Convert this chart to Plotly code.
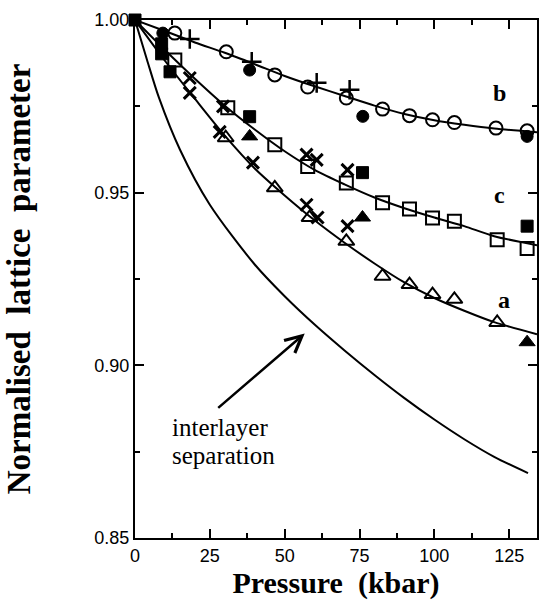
import plotly.graph_objects as go

# ---- data ----
open_circle_x = [13.3, 30.5, 46.7, 57.7, 70.6, 82.7, 91.7, 99.4, 106.7, 120.6, 131.0]
open_circle_y = [0.9962, 0.9908, 0.9841, 0.9806, 0.9774, 0.9742, 0.9723, 0.9711, 0.9703, 0.9687, 0.9679]

filled_circle_x = [9.3, 38.3, 76.1, 131.0]
filled_circle_y = [0.9962, 0.9855, 0.9721, 0.9663]

plus_x = [18.3, 39.0, 60.7, 71.7]
plus_y = [0.9945, 0.9879, 0.9818, 0.9798]

open_square_x = [13.3, 31.0, 46.7, 57.7, 70.6, 82.7, 91.7, 99.4, 106.7, 121.0, 131.0]
open_square_y = [0.9884, 0.9746, 0.9639, 0.9576, 0.9528, 0.9471, 0.9453, 0.9427, 0.9417, 0.9364, 0.9338]

filled_square_x = [0.0, 8.9, 8.9, 11.7, 38.3, 76.0, 131.0]
filled_square_y = [1.0, 0.9931, 0.9902, 0.9850, 0.9720, 0.9558, 0.9403]

cross_x = [18.3, 29.4, 57.3, 60.7, 71.0, 18.3, 28.3, 39.4, 57.3, 61.0, 71.0]
cross_y = [0.9832, 0.9750, 0.9610, 0.9595, 0.9566, 0.9789, 0.9676, 0.9587, 0.9465, 0.9428, 0.9403]

open_tri_x = [30.3, 46.7, 58.3, 70.6, 82.7, 91.7, 99.4, 106.7, 121.0]
open_tri_y = [0.9659, 0.9514, 0.9428, 0.9359, 0.9258, 0.9234, 0.9205, 0.9191, 0.9124]

filled_tri_x = [38.3, 76.0, 131.0]
filled_tri_y = [0.9663, 0.9428, 0.9067]

fit_x = [0, 10, 20, 30, 40, 50, 60, 70, 80, 90, 100, 110, 120, 134.3]
fit_b = [1.0, 0.9968, 0.9935, 0.9905, 0.9872, 0.9838, 0.9808, 0.9780, 0.9752, 0.9728, 0.9710, 0.9697, 0.9686, 0.9675]
fit_c = [1.0, 0.9913, 0.9830, 0.9752, 0.9683, 0.9620, 0.9566, 0.9524, 0.9486, 0.9455, 0.9428, 0.9403, 0.9374, 0.9348]
fit_a = [1.0, 0.9882, 0.9772, 0.9665, 0.9570, 0.9492, 0.9420, 0.9355, 0.9295, 0.9240, 0.9195, 0.9158, 0.9125, 0.9090]

inter_x = [0, 4, 8, 15, 25, 40, 50, 60, 70, 80, 90, 100, 110, 120, 131.3]
inter_y = [1.0, 0.9885, 0.9775, 0.9625, 0.9465, 0.9292, 0.9200, 0.9118, 0.9043, 0.8972, 0.8905, 0.8843, 0.8786, 0.8735, 0.8688]

curve_labels = ["b", "c", "a"]
curve_label_x = [121.7, 121.7, 123.3]
curve_label_y = [0.9790, 0.9494, 0.9190]

x_ticks = [0, 25, 50, 75, 100, 125]
y_ticks = [0.85, 0.90, 0.95, 1.00]
y_tick_text = ["0.85", "0.90", "0.95", "1.00"]

BLACK = "black"
fig = go.Figure()

line_style = dict(color=BLACK, width=2, shape="spline", smoothing=0.8)
for yy in (fit_b, fit_c, fit_a):
    fig.add_trace(go.Scatter(x=fit_x, y=yy, mode="lines", line=line_style,
                             showlegend=False, hoverinfo="skip"))
fig.add_trace(go.Scatter(x=inter_x, y=inter_y, mode="lines", line=line_style,
                         showlegend=False, hoverinfo="skip"))

def add_markers(xs, ys, symbol, size, lw=2, color=BLACK):
    fig.add_trace(go.Scatter(
        x=xs, y=ys, mode="markers", cliponaxis=False, showlegend=False,
        marker=dict(symbol=symbol, size=size, color=color,
                    line=dict(color=BLACK, width=lw))))

add_markers(open_circle_x, open_circle_y, "circle-open", 13)
add_markers(filled_circle_x, filled_circle_y, "circle", 12, 1)
add_markers(plus_x, plus_y, "cross-thin", 14, 2.5)
add_markers(open_square_x, open_square_y, "square-open", 13)
add_markers(filled_square_x, filled_square_y, "square", 12, 1)
add_markers(cross_x, cross_y, "x-thin", 12, 3)
add_markers(open_tri_x, open_tri_y, "triangle-up-open", 14)
add_markers(filled_tri_x, filled_tri_y, "triangle-up", 14, 1)

for t, x, y in zip(curve_labels, curve_label_x, curve_label_y):
    fig.add_annotation(x=x, y=y, text=t, showarrow=False,
                       font=dict(family="Liberation Serif", size=24, color=BLACK, weight="bold"))

fig.add_annotation(x=11.7, y=0.8821, text="interlayer", showarrow=False, xanchor="left",
                   font=dict(family="Liberation Serif", size=25, color=BLACK))
fig.add_annotation(x=11.7, y=0.8740, text="separation", showarrow=False, xanchor="left",
                   font=dict(family="Liberation Serif", size=25, color=BLACK))
fig.add_annotation(x=56.7, y=0.9092, ax=27.3, ay=0.8873, axref="x", ayref="y",
                   text="", showarrow=True, arrowhead=5, arrowsize=1.3, arrowwidth=2.5,
                   arrowcolor=BLACK)

axis_common = dict(
    showgrid=False, zeroline=False, showline=True, linecolor=BLACK, linewidth=2,
    mirror="ticks", ticks="inside", ticklen=9, tickwidth=2, tickcolor=BLACK,
    tickfont=dict(family="Liberation Sans", size=18, color=BLACK),
)

fig.update_xaxes(range=[0, 134.3], tickvals=x_ticks,
                 minor=dict(ticks="inside", dtick=12.5, tick0=0, ticklen=5, tickwidth=2, tickcolor=BLACK),
                 title=dict(text="Pressure  (kbar)", standoff=6,
                            font=dict(family="Liberation Serif", size=30, color=BLACK, weight="bold")),
                 **axis_common)
fig.update_yaxes(range=[0.85, 1.0], tickvals=y_ticks, ticktext=y_tick_text,
                 minor=dict(ticks="inside", dtick=0.025, tick0=0.85, ticklen=5, tickwidth=2, tickcolor=BLACK),
                 title=dict(text="Normalised  lattice  parameter", standoff=54,
                            font=dict(family="Liberation Serif", size=33, color=BLACK, weight="bold")),
                 **axis_common)

fig.update_layout(width=539, height=601, margin=dict(l=135, r=2, t=20, b=63, autoexpand=False),
                  paper_bgcolor="white", plot_bgcolor="white")

# remove the browser's default page margin so the figure sits at the window's corner
fig.write_html("out.html", config={"displayModeBar": False},
               post_script="document.body.style.margin='0';document.body.style.overflow='hidden';")
